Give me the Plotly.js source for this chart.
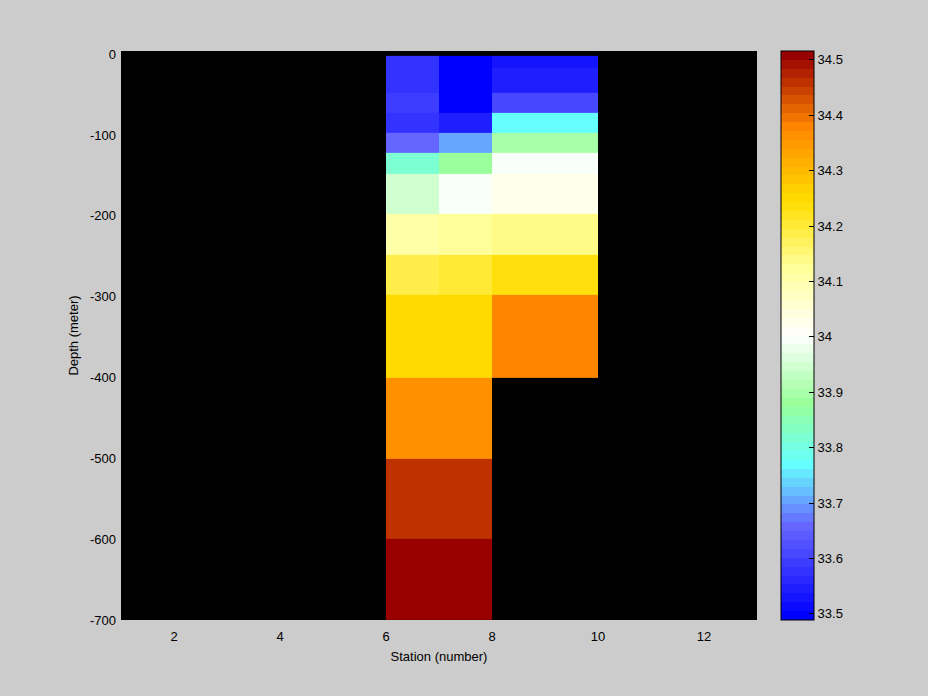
<!DOCTYPE html>
<html>
<head>
<meta charset="utf-8">
<script src="https://cdn.plot.ly/plotly-3.0.1.min.js"></script>
<style>html,body{margin:0;padding:0;background:#cccccc;}#chart{width:928px;height:696px;}</style>
</head>
<body>
<div id="chart"></div>
<script>
// Station cell edges (number)
const stationEdges = [6, 7, 8, 10];
// Depth cell edges (meter), top to bottom
const depthEdges = [-2, -17, -48, -72, -97, -122, -148, -198, -248, -298, -400, -500, -600, -700];
// Salinity per station column, top row to bottom row (null = no data)
const salStation6 = [33.571, 33.571, 33.592, 33.571, 33.653, 33.81, 33.946, 34.105, 34.187, 34.255, 34.356, 34.46, 34.516];
const salStation7 = [33.489, 33.489, 33.489, 33.544, 33.704, 33.879, 33.99, 34.126, 34.208, 34.255, 34.356, 34.46, 34.516];
const salStation8 = [33.531, 33.544, 33.605, 33.766, 33.90, 33.99, 34.03, 34.14, 34.239, 34.376, null, null, null];
// Color limits
const cLimits = [33.489, 34.516];
// Axis ticks
const xTicks = [2, 4, 6, 8, 10, 12];
const yTicks = [0, -100, -200, -300, -400, -500, -600, -700];
const yTickText = ['0', '-100', '-200', '-300', '-400', '-500', '-600', '-700'];
const cTicks = [33.5, 33.6, 33.7, 33.8, 33.9, 34.0, 34.1, 34.2, 34.3, 34.4, 34.5];
const cTickText = ['33.5', '33.6', '33.7', '33.8', '33.9', '34', '34.1', '34.2', '34.3', '34.4', '34.5'];

// Colormap anchors (blue - cyan - green - white - yellow - orange - dark red)
const cmapAnchors = [
  [0.00, [0, 0, 255]],
  [0.16, [102, 102, 255]],
  [0.27, [102, 255, 255]],
  [0.38, [153, 255, 153]],
  [0.50, [255, 255, 255]],
  [0.62, [255, 255, 153]],
  [0.74, [255, 221, 0]],
  [0.87, [255, 136, 0]],
  [1.00, [153, 0, 0]]
];
function interpColor(t) {
  for (let k = 0; k < cmapAnchors.length - 1; k++) {
    const a = cmapAnchors[k], b = cmapAnchors[k + 1];
    if (t >= a[0] && t <= b[0]) {
      const f = (t - a[0]) / (b[0] - a[0]);
      const c = a[1].map((v, i) => Math.round(v + (b[1][i] - v) * f));
      return 'rgb(' + c.join(',') + ')';
    }
  }
  return 'rgb(153,0,0)';
}
const nLevels = 64;
const colorscale = [];
for (let i = 0; i < nLevels; i++) {
  const col = interpColor(i / (nLevels - 1));
  colorscale.push([i / nLevels, col]);
  colorscale.push([(i + 1) / nLevels, col]);
}

// Build z in bottom-to-top order for increasing y edges
const nRows = depthEdges.length - 1;
const yEdgesUp = depthEdges.slice().reverse();
const z = [];
for (let r = nRows - 1; r >= 0; r--) {
  z.push([salStation6[r], salStation7[r], salStation8[r]]);
}

const fontFam = 'Liberation Sans, Arial, sans-serif';
const trace = {
  type: 'heatmap',
  x: stationEdges,
  y: yEdgesUp,
  z: z,
  zmin: cLimits[0],
  zmax: cLimits[1],
  colorscale: colorscale,
  zsmooth: false,
  hoverongaps: false,
  colorbar: {
    thickness: 33,
    thicknessmode: 'pixels',
    len: 1,
    lenmode: 'fraction',
    x: 1.0377,
    xanchor: 'left',
    y: 0.5,
    yanchor: 'middle',
    outlinecolor: '#000',
    outlinewidth: 1,
    ticks: 'inside',
    ticklen: 5,
    tickcolor: '#000',
    tickvals: cTicks,
    ticktext: cTickText,
    tickfont: {family: fontFam, size: 13, color: '#000'},
    xpad: 0,
    ypad: 0
  }
};

const layout = {
  width: 928,
  height: 696,
  paper_bgcolor: '#cccccc',
  plot_bgcolor: '#000000',
  margin: {l: 121, r: 171, t: 51, b: 76, pad: 0},
  showlegend: false,
  xaxis: {
    range: [1, 13],
    tickvals: xTicks,
    ticks: '',
    ticklabelstandoff: 7,
    showgrid: false,
    zeroline: false,
    showline: false,
    tickfont: {family: fontFam, size: 13, color: '#000'},
    title: {text: 'Station (number)', font: {family: fontFam, size: 13, color: '#000'}, standoff: 8}
  },
  yaxis: {
    range: [-700, 4],
    tickvals: yTicks,
    ticktext: yTickText,
    ticks: '',
    ticklabelstandoff: 4,
    showgrid: false,
    zeroline: false,
    showline: false,
    tickfont: {family: fontFam, size: 13, color: '#000'},
    title: {text: 'Depth (meter)', font: {family: fontFam, size: 13, color: '#000'}, standoff: 8}
  }
};

Plotly.newPlot('chart', [trace], layout, {displayModeBar: false, staticPlot: true});
</script>
</body>
</html>
